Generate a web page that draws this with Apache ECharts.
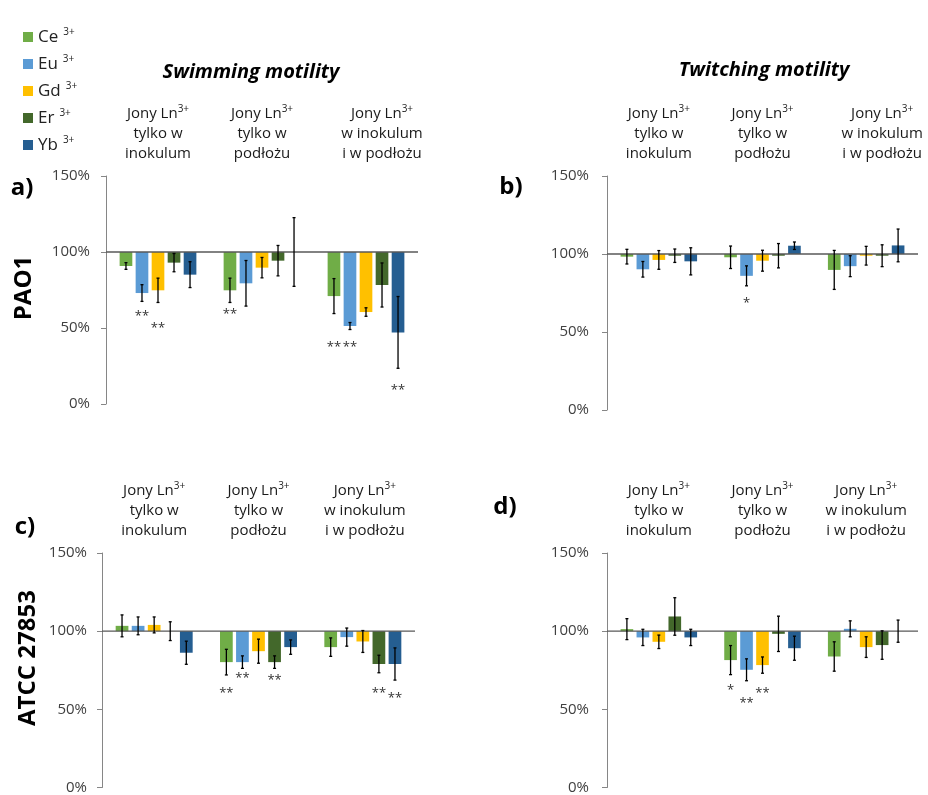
<!DOCTYPE html>
<html><head><meta charset="utf-8">
<script src="https://cdn.jsdelivr.net/npm/echarts@6/dist/echarts.min.js"></script>
<style>html,body{margin:0;padding:0;background:#fff}#c{width:928px;height:795px}</style>
</head><body><div id="c"></div>
<script>
// ---- data ----
const ions = ['Ce', 'Eu', 'Gd', 'Er', 'Yb'];
const groupLine1 = ['Jony Ln', 'Jony Ln', 'Jony Ln'];
const groupLine2 = ['tylko w', 'tylko w', 'w inokulum'];
const groupLine3 = ['inokulum', 'podłożu', 'i w podłożu'];
const yTicks = [0, 50, 100, 150];
const baselineValue = 100;

// rows = groups (inokulum / podłoże / both), columns = ions Ce, Eu, Gd, Er, Yb (percent)
const aMean = [[90.8, 73.0, 74.8, 93.0, 85.1], [74.8, 79.4, 89.7, 94.3, 100.0], [71.0, 51.3, 60.5, 78.3, 47.1]];
const aErr  = [[2.2, 5.5, 8.0, 6.0, 8.5], [8.0, 15.0, 6.7, 10.0, 22.6], [11.5, 2.3, 2.8, 14.5, 23.6]];
const bMean = [[98.3, 90.2, 96.2, 98.9, 95.3], [97.9, 86.0, 95.7, 98.9, 105.3], [89.8, 92.2, 98.9, 98.9, 105.5]];
const bErr  = [[4.7, 5.0, 6.0, 4.3, 8.7], [7.2, 6.4, 6.7, 7.8, 2.4], [12.5, 6.7, 6.0, 7.0, 10.5]];
const cMean = [[103.4, 103.4, 104.0, 100.0, 86.2], [80.2, 80.2, 87.2, 80.2, 89.8], [89.8, 96.2, 93.4, 79.0, 79.0]];
const cErr  = [[7.0, 5.7, 5.1, 6.0, 7.4], [8.2, 4.0, 7.7, 4.0, 4.6], [5.9, 5.8, 7.0, 5.6, 10.3]];
const dMean = [[101.3, 96.0, 93.2, 109.4, 96.0], [81.5, 75.3, 78.3, 98.3, 89.1], [83.8, 101.5, 89.8, 91.1, 100.0]];
const dErr  = [[6.7, 5.2, 4.3, 12.0, 5.2], [9.3, 7.0, 5.2, 11.3, 7.7], [9.4, 5.1, 6.6, 9.1, 7.1]];
// significance marks: [group, ion index, label, value-axis level where the mark sits]
const aSig = [[0, 1, '**', 59.9], [0, 2, '**', 52.0], [1, 0, '**', 61.2], [2, 0, '**', 39.5], [2, 1, '**', 39.5], [2, 4, '**', 11.2]];
const bSig = [[1, 1, '*', 70.2]];
const cSig = [[1, 0, '**', 61.9], [1, 1, '**', 71.5], [1, 3, '**', 70.2], [2, 3, '**', 61.9], [2, 4, '**', 58.7]];
const dSig = [[1, 0, '*', 63.8], [1, 1, '**', 55.5], [1, 2, '**', 61.9]];
const panelLetters = ['a)', 'b)', 'c)', 'd)'];
const motilityTitles = ['Swimming motility', 'Twitching motility'];
const strainNames = ['PAO1', 'ATCC 27853'];

// ---- styles ----
const FONT = 'Open Sans';
const ionColors = ['#70AD47', '#5B9BD5', '#FFC000', '#43682B', '#255E91'];
const PITCH = 0.154, BARW = 0.122;
const grids = [
  { left: 106, top: 176, width: 312, height: 228 },
  { left: 607, top: 176, width: 311, height: 234 },
  { left: 102, top: 553, width: 313, height: 235 },
  { left: 607, top: 553, width: 311, height: 235 }
];
const labelMargins = [16, 18, 15, 18];
// extra left padding (px) of category label blocks per panel, to mimic the hand-placed text boxes
const labelPad = [[0, 0, 32], [0, 0, 32], [0, 0, 4], [0, 0, 0]];
const panels = [
  { mean: aMean, err: aErr, sig: aSig },
  { mean: bMean, err: bErr, sig: bSig },
  { mean: cMean, err: cErr, sig: cSig },
  { mean: dMean, err: dErr, sig: dSig }
];
const categories = groupLine1.map((l, i) => [l, groupLine2[i], groupLine3[i]]);

const xAxes = [], yAxes = [], series = [];
panels.forEach((p, pi) => {
  const richL = { s: { fontFamily: FONT, fontSize: 10, lineHeight: 12, verticalAlign: 'top', color: '#1a1a1a' } };
  [0, 1, 2].forEach(g => {
    richL['t' + g] = { fontFamily: FONT, fontSize: 15, lineHeight: 20, color: '#1a1a1a', padding: [0, 0, 0, labelPad[pi][g]] };
  });
  xAxes.push({
    type: 'category', gridIndex: pi, data: categories.map((c, g) => ({ value: String(g), lines: c })), position: 'top',
    axisLine: { show: false }, axisTick: { show: false },
    axisLabel: {
      interval: 0, margin: 12, fontFamily: FONT, fontSize: 15, lineHeight: 20, color: '#1a1a1a',
      formatter: (v, idx) => {
        const c = categories[idx];
        return '{t' + idx + '|' + c[0] + '}{s|3+}\n{t' + idx + '|' + c[1] + '}\n{t' + idx + '|' + c[2] + '}';
      },
      rich: richL
    }
  });
  yAxes.push({
    type: 'value', gridIndex: pi, min: yTicks[0], max: yTicks[yTicks.length - 1], interval: 50,
    splitLine: { show: false },
    axisLine: { show: true, lineStyle: { color: '#868686', width: 1 } },
    axisTick: { show: true, length: 5, lineStyle: { color: '#868686' } },
    axisLabel: { formatter: '{value}%', fontFamily: FONT, fontSize: 15, color: '#404040', margin: labelMargins[pi] }
  });
  // bars (one series per ion)
  ions.forEach((ion, ii) => {
    series.push({
      type: 'custom', name: ion, xAxisIndex: pi, yAxisIndex: pi, z: 2,
      itemStyle: { color: ionColors[ii] },
      data: p.mean.map((row, g) => [g, row[ii]]),
      renderItem: (params, api) => {
        const g = api.value(0), m = api.value(1);
        const base = api.coord([g, baselineValue]);
        const top = api.coord([g, m]);
        const band = api.size([1, 0])[0];
        const cx = base[0] + (ii - 2) * band * PITCH;
        const w = band * BARW;
        return {
          type: 'rect',
          shape: { x: cx - w / 2, y: Math.min(base[1], top[1]), width: w, height: Math.abs(top[1] - base[1]) },
          style: { fill: ionColors[ii] }
        };
      }
    });
  });
  // 100% baseline
  series.push({
    type: 'custom', name: 'baseline' + pi, xAxisIndex: pi, yAxisIndex: pi, z: 3, silent: true,
    data: [[0, baselineValue]],
    renderItem: (params, api) => {
      const cs = params.coordSys;
      const y = api.coord([0, api.value(1)])[1];
      return { type: 'line', shape: { x1: cs.x, y1: y, x2: cs.x + cs.width, y2: y }, style: { stroke: '#595959', lineWidth: 1.3 } };
    }
  });
  // error bars
  const errData = [];
  p.mean.forEach((row, g) => row.forEach((m, ii) => errData.push([g, ii, m, p.err[g][ii]])));
  series.push({
    type: 'custom', name: 'err' + pi, xAxisIndex: pi, yAxisIndex: pi, z: 4, silent: true,
    data: errData,
    renderItem: (params, api) => {
      const g = api.value(0), ii = api.value(1), m = api.value(2), e = api.value(3);
      const band = api.size([1, 0])[0];
      const cx = api.coord([g, m])[0] + (ii - 2) * band * PITCH;
      const hi = api.coord([g, m + e])[1], lo = api.coord([g, m - e])[1];
      const st = { stroke: '#000', lineWidth: 1.3 };
      return {
        type: 'group', children: [
          { type: 'line', shape: { x1: cx, y1: hi, x2: cx, y2: lo }, style: st },
          { type: 'line', shape: { x1: cx - 1.5, y1: hi, x2: cx + 1.5, y2: hi }, style: st },
          { type: 'line', shape: { x1: cx - 1.5, y1: lo, x2: cx + 1.5, y2: lo }, style: st }
        ]
      };
    }
  });
  // significance marks
  series.push({
    type: 'custom', name: 'sig' + pi, xAxisIndex: pi, yAxisIndex: pi, z: 5, silent: true,
    data: p.sig.map(s => [s[0], s[1], s[3]]),
    renderItem: (params, api) => {
      const g = api.value(0), ii = api.value(1), y = api.value(2);
      const band = api.size([1, 0])[0];
      const pt = api.coord([g, y]);
      return {
        type: 'text', x: pt[0] + (ii - 2) * band * PITCH, y: pt[1] + 3,
        style: { text: p.sig[params.dataIndex][2], fontFamily: FONT, fontSize: 13, fill: '#333', textAlign: 'center', textVerticalAlign: 'middle' }
      };
    }
  });
});

const graphics = [
  { type: 'text', x: 251, y: 72, style: { text: motilityTitles[0], fontFamily: FONT, fontSize: 20, fontWeight: 'bold', fontStyle: 'italic', fill: '#000', textAlign: 'center', textVerticalAlign: 'middle' } },
  { type: 'text', x: 764, y: 70, style: { text: motilityTitles[1], fontFamily: FONT, fontSize: 20, fontWeight: 'bold', fontStyle: 'italic', fill: '#000', textAlign: 'center', textVerticalAlign: 'middle' } },
  { type: 'text', x: 22, y: 188, style: { text: panelLetters[0], fontFamily: FONT, fontSize: 24, fontWeight: 'bold', fill: '#000', textAlign: 'center', textVerticalAlign: 'middle' } },
  { type: 'text', x: 511, y: 187, style: { text: panelLetters[1], fontFamily: FONT, fontSize: 24, fontWeight: 'bold', fill: '#000', textAlign: 'center', textVerticalAlign: 'middle' } },
  { type: 'text', x: 25, y: 527, style: { text: panelLetters[2], fontFamily: FONT, fontSize: 24, fontWeight: 'bold', fill: '#000', textAlign: 'center', textVerticalAlign: 'middle' } },
  { type: 'text', x: 505, y: 507, style: { text: panelLetters[3], fontFamily: FONT, fontSize: 24, fontWeight: 'bold', fill: '#000', textAlign: 'center', textVerticalAlign: 'middle' } },
  { type: 'text', x: 24, y: 288, rotation: Math.PI / 2, style: { text: strainNames[0], fontFamily: FONT, fontSize: 24, fontWeight: 'bold', fill: '#000', textAlign: 'center', textVerticalAlign: 'middle' } },
  { type: 'text', x: 28, y: 658, rotation: Math.PI / 2, style: { text: strainNames[1], fontFamily: FONT, fontSize: 24, fontWeight: 'bold', fill: '#000', textAlign: 'center', textVerticalAlign: 'middle' } }
];

const chart = echarts.init(document.getElementById('c'), null, { renderer: 'canvas' });
chart.setOption({
  animation: false,
  backgroundColor: '#fff',
  grid: grids,
  xAxis: xAxes,
  yAxis: yAxes,
  legend: {
    data: ions, orient: 'vertical', left: 18, top: 22, icon: 'rect',
    itemWidth: 10, itemHeight: 10, itemGap: 7, selectedMode: false,
    formatter: n => n + '{s|3+}',
    textStyle: {
      fontFamily: FONT, fontSize: 17, color: '#222', lineHeight: 20,
      rich: { s: { fontFamily: FONT, fontSize: 10, lineHeight: 12, verticalAlign: 'top', padding: [0, 0, 0, 5], color: '#222' } }
    }
  },
  graphic: graphics,
  series: series
});
</script>
</body></html>
